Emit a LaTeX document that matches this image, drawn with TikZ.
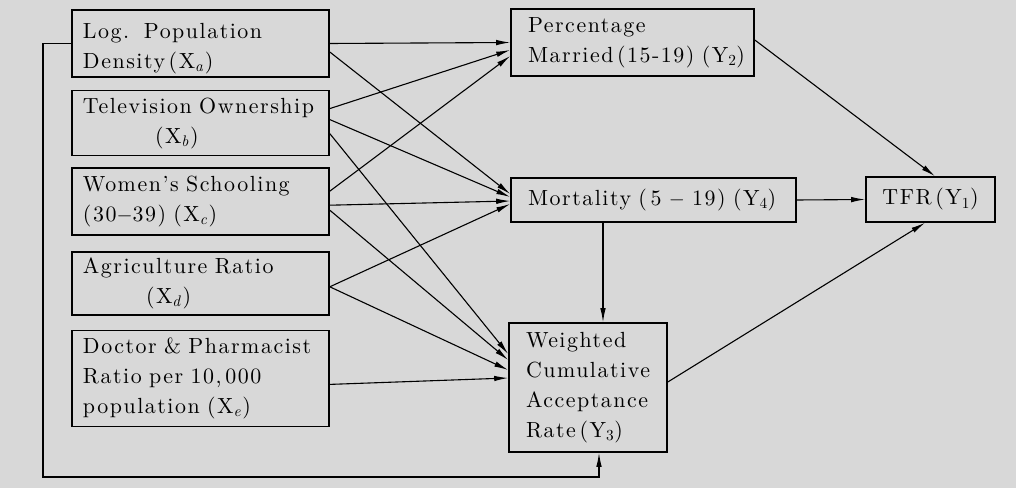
\documentclass[tikz,border=0pt]{standalone}
\usepackage{fontspec}
\setmainfont{lmroman10}[Extension=.otf, UprightFont=*-regular,
    ItalicFont=*-italic, BoldFont=*-bold]
\usepackage{tikz}
\usetikzlibrary{positioning,arrows.meta}

\definecolor{paper}{RGB}{216,216,216}
\newcommand{\xs}[1]{X\textsubscript{\textit{#1}}}
\newcommand{\ys}[1]{Y\textsubscript{#1}}

\begin{document}
\begin{tikzpicture}[
    x=1bp, y=-1bp,
    box/.style={draw, line width=1.6bp, rectangle, align=left, inner ysep=0pt,
        font=\fontsize{22}{30}\selectfont\addfontfeature{LetterSpace=7}},
    xbox/.style={box, text width=235bp, inner xsep=11bp},
    ybox/.style={box, inner xsep=17bp},
    arrow/.style={-{Latex[length=14bp,width=5.5bp]}, line width=1.1bp},
]
    % background
    \fill[paper] (0,0) rectangle (1016,488);
    % explanatory variables
    \node[xbox, minimum height=67bp] (xa) at (200.5,43.5)
        {\rule{0pt}{26bp}Log.\ \ Population\\Density\,(\xs{a})};
    \node[xbox, minimum height=65bp, below=12bp of xa] (xb)
        {Television Ownership\\\hspace*{72bp}(\xs{b})};
    \node[xbox, minimum height=67bp, below=11bp of xb] (xc)
        {Women's Schooling\\(30$-$39) (\xs{c})};
    \node[xbox, minimum height=63bp, below=15bp of xc] (xd)
        {Agriculture Ratio\\\hspace*{63bp}(\xs{d})};
    \node[xbox, minimum height=96bp, below=14bp of xd] (xe)
        {Doctor \& Pharmacist\\Ratio per 10,\,000\\population (\xs{e})};
    % intermediate variables
    \node[ybox, text width=209bp, minimum height=67bp] (y2) at (632.5,42.5)
        {Percentage\\\mbox{Married\,(15-19) (\ys{2})}};
    \node[ybox, text width=251bp, minimum height=44bp] (y4) at (653.5,200)
        {\mbox{Mortality (\,5 $-$ 19) (\ys{4})}};
    \node[ybox, text width=124bp, minimum height=129bp] (y3) at (588,387.5)
        {Weighted\\Cumulative\\Acceptance\\Rate\,(\ys{3})};
    % outcome
    \node[box, align=center, minimum width=129bp, minimum height=45bp] (tfr) at (930.5,199.5)
        {TFR\,(\ys{1})};
    % arrows to Y2
    \draw[arrow] (xa.east) -- (y2.west);
    \draw[arrow] ([yshift=14.5bp]xb.east) -- ([yshift=-7.5bp]y2.west);
    \draw[arrow] ([yshift=10.5bp]xc.east) -- ([yshift=-13.5bp]y2.west);
    % arrows to Y4
    \draw[arrow] ([yshift=-8.5bp]xa.east) -- ([yshift=6bp]y4.west);
    \draw[arrow] ([yshift=3.5bp]xb.east) -- ([yshift=3bp]y4.west);
    \draw[arrow] ([yshift=-3.5bp]xc.east) -- ([yshift=-1bp]y4.west);
    \draw[arrow] ([yshift=-3.5bp]xd.east) -- ([yshift=-4bp]y4.west);
    % arrows to Y3
    \draw[arrow] ([yshift=-10.5bp]xb.east) -- ([yshift=33.5bp]y3.west);
    \draw[arrow] ([yshift=-8.5bp]xc.east) -- ([yshift=27.5bp]y3.west);
    \draw[arrow] ([yshift=-3.5bp]xd.east) -- ([yshift=17.5bp]y3.west);
    \draw[arrow] ([yshift=-6bp]xe.east) -- ([yshift=9.5bp]y3.west);
    \draw[arrow] ([xshift=15bp]y3.north |- y4.south) -- ([xshift=15bp]y3.north);
    % feedback from Xa
    \coordinate (fb) at (43,477);
    \draw[arrow] (xa.west) -| (fb) -| ([xshift=11bp]y3.south);
    % arrows to TFR
    \draw[arrow] ([yshift=2.5bp]y2.east) -- ([xshift=4.5bp]tfr.north);
    \draw[arrow] (y4.east) -- (tfr.west);
    \draw[arrow] ([yshift=5.5bp]y3.east) -- ([xshift=-5.5bp]tfr.south);
\end{tikzpicture}
\end{document}
